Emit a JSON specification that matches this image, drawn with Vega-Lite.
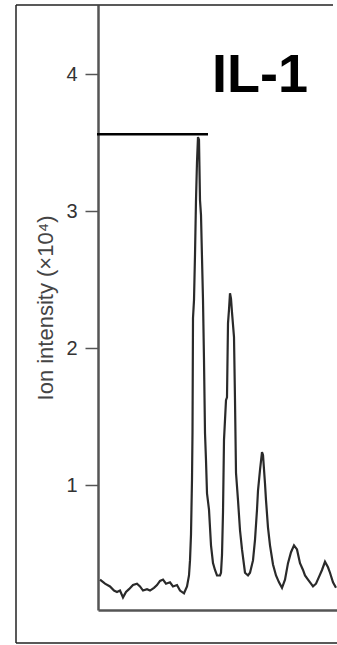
{
  "$schema": "https://vega.github.io/schema/vega-lite/v6.json",
  "autosize": "none",
  "width": 239,
  "height": 605,
  "padding": {"left": 98, "top": 5, "right": 0, "bottom": 35},
  "background": "white",
  "config": {
    "view": {"stroke": null},
    "axis": {"grid": false, "domainColor": "#555", "domainWidth": 2.5},
    "axisX": {"labels": false, "ticks": false, "title": null},
    "axisY": {"tickColor": "#555", "tickWidth": 1.5, "tickSize": 13,
      "labelFont": "Liberation Sans", "labelFontSize": 20, "labelColor": "#333", "labelPadding": 8,
      "titleFont": "Liberation Sans", "titleFontSize": 22, "titleFontWeight": "normal", "titleColor": "#444", "titlePadding": 8}
  },
  "datasets": {
    "trace": [
      {"t": 2, "v": 0.31}, {"t": 7, "v": 0.28}, {"t": 12, "v": 0.26}, {"t": 16, "v": 0.23},
      {"t": 19, "v": 0.22}, {"t": 22, "v": 0.23}, {"t": 25, "v": 0.18}, {"t": 28, "v": 0.22},
      {"t": 31, "v": 0.24}, {"t": 35, "v": 0.27}, {"t": 39, "v": 0.28}, {"t": 42, "v": 0.26},
      {"t": 45, "v": 0.23}, {"t": 49, "v": 0.24}, {"t": 52, "v": 0.23}, {"t": 56, "v": 0.25},
      {"t": 59, "v": 0.27}, {"t": 62, "v": 0.30}, {"t": 65, "v": 0.31}, {"t": 68, "v": 0.28},
      {"t": 72, "v": 0.29}, {"t": 75, "v": 0.26}, {"t": 79, "v": 0.27}, {"t": 82, "v": 0.23},
      {"t": 86, "v": 0.21}, {"t": 89, "v": 0.26}, {"t": 91, "v": 0.34}, {"t": 92, "v": 0.45},
      {"t": 93, "v": 0.64}, {"t": 94, "v": 1.04}, {"t": 94.5, "v": 1.38}, {"t": 95, "v": 2.22},
      {"t": 96, "v": 2.35}, {"t": 97, "v": 2.68}, {"t": 98, "v": 3.08}, {"t": 99, "v": 3.36},
      {"t": 100, "v": 3.54}, {"t": 101, "v": 3.52}, {"t": 102, "v": 3.08}, {"t": 103, "v": 2.97},
      {"t": 104, "v": 2.66}, {"t": 105, "v": 2.35}, {"t": 106, "v": 1.91}, {"t": 107, "v": 1.38},
      {"t": 108, "v": 1.18}, {"t": 109, "v": 0.94}, {"t": 111, "v": 0.82}, {"t": 112, "v": 0.69},
      {"t": 113, "v": 0.56}, {"t": 115, "v": 0.43}, {"t": 117, "v": 0.38}, {"t": 119, "v": 0.34},
      {"t": 122, "v": 0.34}, {"t": 123, "v": 0.36}, {"t": 124, "v": 0.49}, {"t": 125, "v": 0.80},
      {"t": 126, "v": 1.33}, {"t": 128, "v": 1.62}, {"t": 129, "v": 1.64}, {"t": 130, "v": 2.18},
      {"t": 131, "v": 2.28}, {"t": 132, "v": 2.40}, {"t": 133, "v": 2.36}, {"t": 134, "v": 2.26},
      {"t": 136, "v": 2.08}, {"t": 137, "v": 1.62}, {"t": 138, "v": 1.09}, {"t": 140, "v": 0.89},
      {"t": 142, "v": 0.67}, {"t": 144, "v": 0.53}, {"t": 147, "v": 0.36}, {"t": 150, "v": 0.34},
      {"t": 152, "v": 0.36}, {"t": 155, "v": 0.45}, {"t": 157, "v": 0.60}, {"t": 159, "v": 0.82},
      {"t": 160, "v": 0.96}, {"t": 162, "v": 1.11}, {"t": 164, "v": 1.24}, {"t": 165, "v": 1.22},
      {"t": 167, "v": 1.01}, {"t": 168, "v": 0.89}, {"t": 170, "v": 0.69}, {"t": 172, "v": 0.56},
      {"t": 175, "v": 0.42}, {"t": 178, "v": 0.34}, {"t": 181, "v": 0.29}, {"t": 184, "v": 0.25},
      {"t": 187, "v": 0.31}, {"t": 190, "v": 0.43}, {"t": 193, "v": 0.51}, {"t": 196, "v": 0.56},
      {"t": 199, "v": 0.53}, {"t": 202, "v": 0.43}, {"t": 205, "v": 0.38}, {"t": 207, "v": 0.34},
      {"t": 210, "v": 0.31}, {"t": 213, "v": 0.28}, {"t": 215, "v": 0.26}, {"t": 218, "v": 0.28},
      {"t": 221, "v": 0.33}, {"t": 224, "v": 0.38}, {"t": 227, "v": 0.44}, {"t": 230, "v": 0.40},
      {"t": 232, "v": 0.36}, {"t": 235, "v": 0.29}, {"t": 238, "v": 0.25}
    ],
    "marker": [{"t": -1, "t2": 110, "v": 3.56}],
    "frame": [
      {"t": -82, "t2": -82, "v": -0.153, "v2": 4.504},
      {"t": -82, "t2": 235, "v": 4.504, "v2": 4.504},
      {"t": -82, "t2": 239, "v": -0.153, "v2": -0.153}
    ],
    "label": [{"t": 162, "v": 3.87, "text": "IL-1"}]
  },
  "layer": [
    {
      "data": {"name": "trace"},
      "mark": {"type": "line", "color": "#2a2a2a", "strokeWidth": 2.2, "clip": true},
      "encoding": {
        "x": {"field": "t", "type": "quantitative", "scale": {"domain": [0, 239], "nice": false, "zero": false}},
        "y": {"field": "v", "type": "quantitative", "scale": {"domain": [0.088, 4.504], "nice": false, "zero": false},
          "axis": {"title": "Ion intensity (×10⁴)", "values": [1, 2, 3, 4], "format": "d", "labelFontSize": 20,
            "encode": {"labels": {"update": {"fontSize": {"value": 20}, "fill": {"value": "#333"}}}}}}
      }
    },
    {
      "data": {"name": "frame"},
      "mark": {"type": "rule", "color": "#222", "strokeWidth": 1.5, "clip": false},
      "encoding": {
        "x": {"field": "t", "type": "quantitative"},
        "x2": {"field": "t2"},
        "y": {"field": "v", "type": "quantitative"},
        "y2": {"field": "v2"}
      }
    },
    {
      "data": {"name": "marker"},
      "mark": {"type": "rule", "color": "black", "strokeWidth": 2.5},
      "encoding": {
        "x": {"field": "t", "type": "quantitative"},
        "x2": {"field": "t2"},
        "y": {"field": "v", "type": "quantitative"}
      }
    },
    {
      "data": {"name": "label"},
      "mark": {"type": "text", "font": "Liberation Sans", "fontWeight": "bold", "fontSize": 54, "color": "black", "align": "center", "baseline": "alphabetic"},
      "encoding": {
        "x": {"field": "t", "type": "quantitative"},
        "y": {"field": "v", "type": "quantitative"},
        "text": {"field": "text"}
      }
    }
  ]
}
